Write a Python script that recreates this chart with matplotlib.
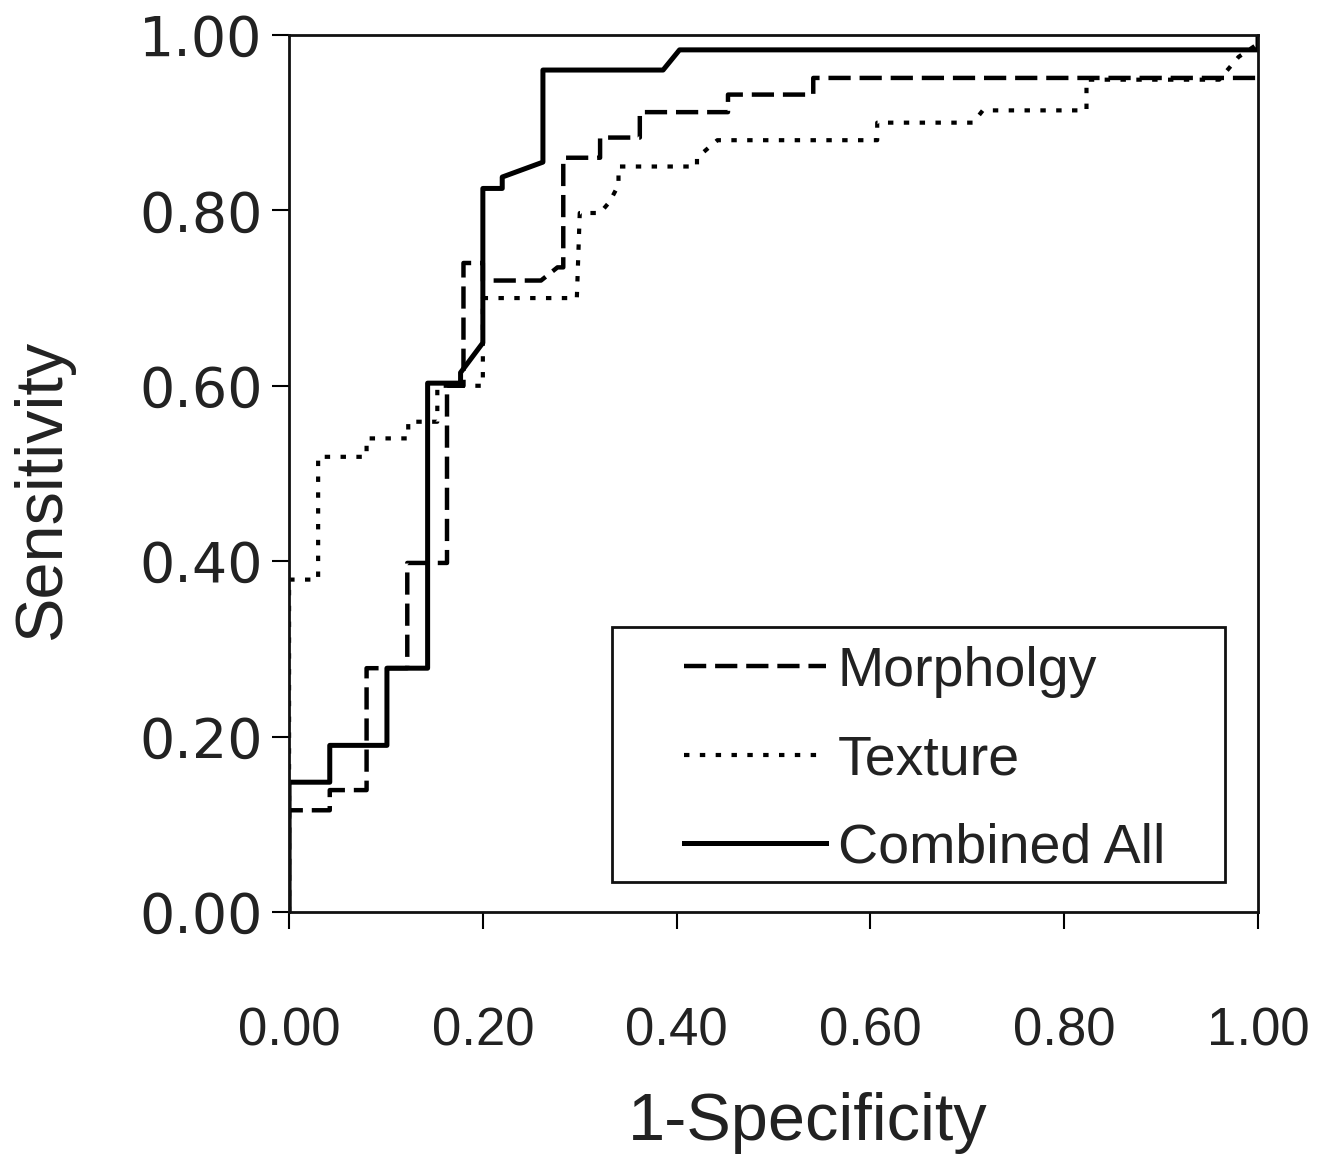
import numpy as np
from matplotlib import pyplot as plt
from matplotlib.patches import Rectangle

# ROC curves (1-specificity, sensitivity)
morph_x = [0, 0, 0.042, 0.042, 0.08, 0.08, 0.122, 0.122, 0.163, 0.163, 0.18, 0.18,
           0.2, 0.2, 0.26, 0.277, 0.283, 0.283, 0.321, 0.321, 0.362, 0.362,
           0.453, 0.453, 0.541, 0.541, 1.0]
morph_y = [0, 0.116, 0.116, 0.139, 0.139, 0.278, 0.278, 0.398, 0.398, 0.6, 0.6, 0.74,
           0.74, 0.72, 0.72, 0.735, 0.735, 0.86, 0.86, 0.883, 0.883, 0.912,
           0.912, 0.932, 0.932, 0.951, 0.951]

texture_x = [0, 0, 0.03, 0.03, 0.08, 0.08, 0.123, 0.123, 0.153, 0.153, 0.2, 0.2,
             0.297, 0.30, 0.321, 0.331, 0.34, 0.34, 0.421, 0.421, 0.442, 0.607,
             0.607, 0.706, 0.716, 0.823, 0.823, 0.96, 0.98, 1.0]
texture_y = [0, 0.379, 0.379, 0.519, 0.519, 0.54, 0.54, 0.559, 0.559, 0.6, 0.6, 0.70,
             0.70, 0.797, 0.797, 0.81, 0.829, 0.85, 0.85, 0.86, 0.88, 0.88,
             0.9, 0.9, 0.914, 0.914, 0.949, 0.949, 0.975, 0.99]

comb_x = [0, 0, 0.042, 0.042, 0.101, 0.101, 0.143, 0.143, 0.177, 0.177, 0.2, 0.2,
          0.22, 0.22, 0.262, 0.262, 0.386, 0.403, 1.0, 1.0]
comb_y = [0, 0.148, 0.148, 0.19, 0.19, 0.278, 0.278, 0.603, 0.603, 0.615, 0.649, 0.825,
          0.825, 0.838, 0.855, 0.96, 0.96, 0.983, 0.983, 1.0]

labels = ['Morpholgy', 'Texture', 'Combined All']
ticks = [0, 0.2, 0.4, 0.6, 0.8, 1.0]

plt.rcParams['font.family'] = ['Liberation Sans', 'DejaVu Sans']
txt = '#222222'

fig = plt.figure(figsize=(13.42, 11.73), dpi=100)
ax = fig.add_axes([0.2154, 0.2225, 0.722, 0.7477])

ax.plot(morph_x, morph_y, color='black', lw=3.2, linestyle=(0, (5, 2)), label=labels[0])
ax.plot(texture_x, texture_y, color='black', lw=3, linestyle=(0, (1.3, 2.5)), label=labels[1])
ax.plot(comb_x, comb_y, color='black', lw=3.6, label=labels[2])

ax.set_xlim(0, 1)
ax.set_ylim(0, 1)
ax.set_xticks(ticks)
ax.set_yticks(ticks)
ax.set_xticklabels(['%.2f' % t for t in ticks])
# the y labels in the original are drawn wider, so a wider face is used there
ax.set_yticklabels(['%.2f' % t for t in ticks], family=['DejaVu Sans'])
ax.tick_params(axis='x', direction='out', length=12, width=1.5, pad=56,
               labelsize=38, labelcolor=txt)
ax.tick_params(axis='y', direction='out', length=12, width=1.5, pad=7,
               labelsize=40, labelcolor=txt)
for s in ax.spines.values():
    s.set_linewidth(2)
    s.set_color('#111111')

ax.set_xlabel('1-Specificity', fontsize=48, color=txt)
ax.set_ylabel('Sensitivity', fontsize=48, color=txt)
ax.xaxis.set_label_coords(0.535, -0.205)
ax.yaxis.set_label_coords(-0.222, 0.481)

# legend frame drawn separately so the inner padding can be wide
ax.add_patch(Rectangle((0.333, 0.034), 0.633, 0.291, transform=ax.transAxes,
                       fill=False, edgecolor='#111111', lw=2, zorder=5))
ax.legend(loc='center', bbox_to_anchor=(0.656, 0.173), frameon=False,
          fontsize=40, handlelength=2.55, handletextpad=0.22, labelspacing=0.66,
          labelcolor=txt)

plt.savefig('out.png', dpi=100)
